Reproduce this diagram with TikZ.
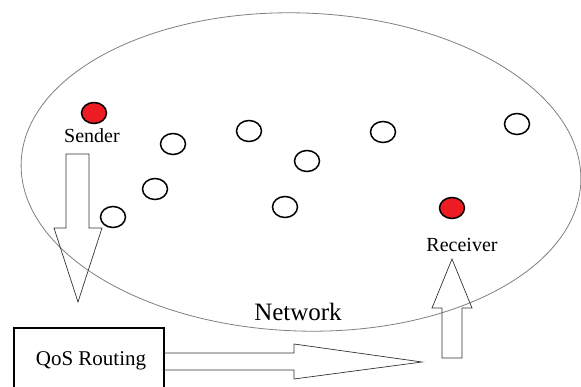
\documentclass[tikz,border=0pt]{standalone}
\usepackage{fontspec}
\setmainfont{Liberation Serif}
\usetikzlibrary{shapes.geometric}

\definecolor{nodered}{HTML}{ED1C24}
\definecolor{rimgray}{HTML}{7F7F7F}

\tikzset{
	host/.style={ellipse,draw,line width=1.5pt,minimum width=25pt,minimum height=21pt,inner sep=0pt},
	endhost/.style={host,fill=nodered},
	blockarrow/.style={draw=black!80,line width=0.7pt},
	lbl/.style={anchor=base,inner sep=0pt,font=\fontsize{20}{22}\selectfont}
}

\begin{document}
\begin{tikzpicture}[x=1pt,y=-1pt]
	\useasboundingbox (0,0) rectangle (581,387);

	% network cloud
	\draw[rimgray,line width=0.8pt,rotate around={-2:(301,172)}] (301,172) ellipse (280 and 159);
	\node[lbl,font=\fontsize{25}{27}\selectfont] (net) at (298,321) {Network};

	% hosts
	\node[endhost] (sender) at (94,113) {};
	\node[endhost] (receiver) at (452,208) {};
	\node[host] (h1) at (173,144) {};
	\node[host] (h2) at (249,131) {};
	\node[host] (h3) at (307,161) {};
	\node[host] (h4) at (383,132) {};
	\node[host] (h5) at (155,189) {};
	\node[host] (h6) at (285,207) {};
	\node[host] (h7) at (113,217) {};
	\node[host] (h8) at (517,124) {};

	\node[lbl] (sendlbl) at (92,143) {Sender};
	\node[lbl] (recvlbl) at (462,252) {Receiver};

	% routing box
	\draw[line width=1.5pt] (14,328) rectangle (164,400);
	\node[lbl,font=\fontsize{21}{23}\selectfont] (qos) at (91,365) {QoS Routing};

	% block arrows
	\draw[blockarrow] (66,154) -- (89,154) -- (89,228) -- (102,228) -- (78,302) -- (54,228) -- (66,228) -- cycle;
	\draw[blockarrow] (164,353) -- (294,353) -- (294,344) -- (422,362) -- (294,379) -- (294,370) -- (164,370);
	\draw[blockarrow] (442,358) -- (442,308) -- (432,308) -- (452,259) -- (472,308) -- (462,308) -- (462,358) -- cycle;

\end{tikzpicture}
\end{document}
